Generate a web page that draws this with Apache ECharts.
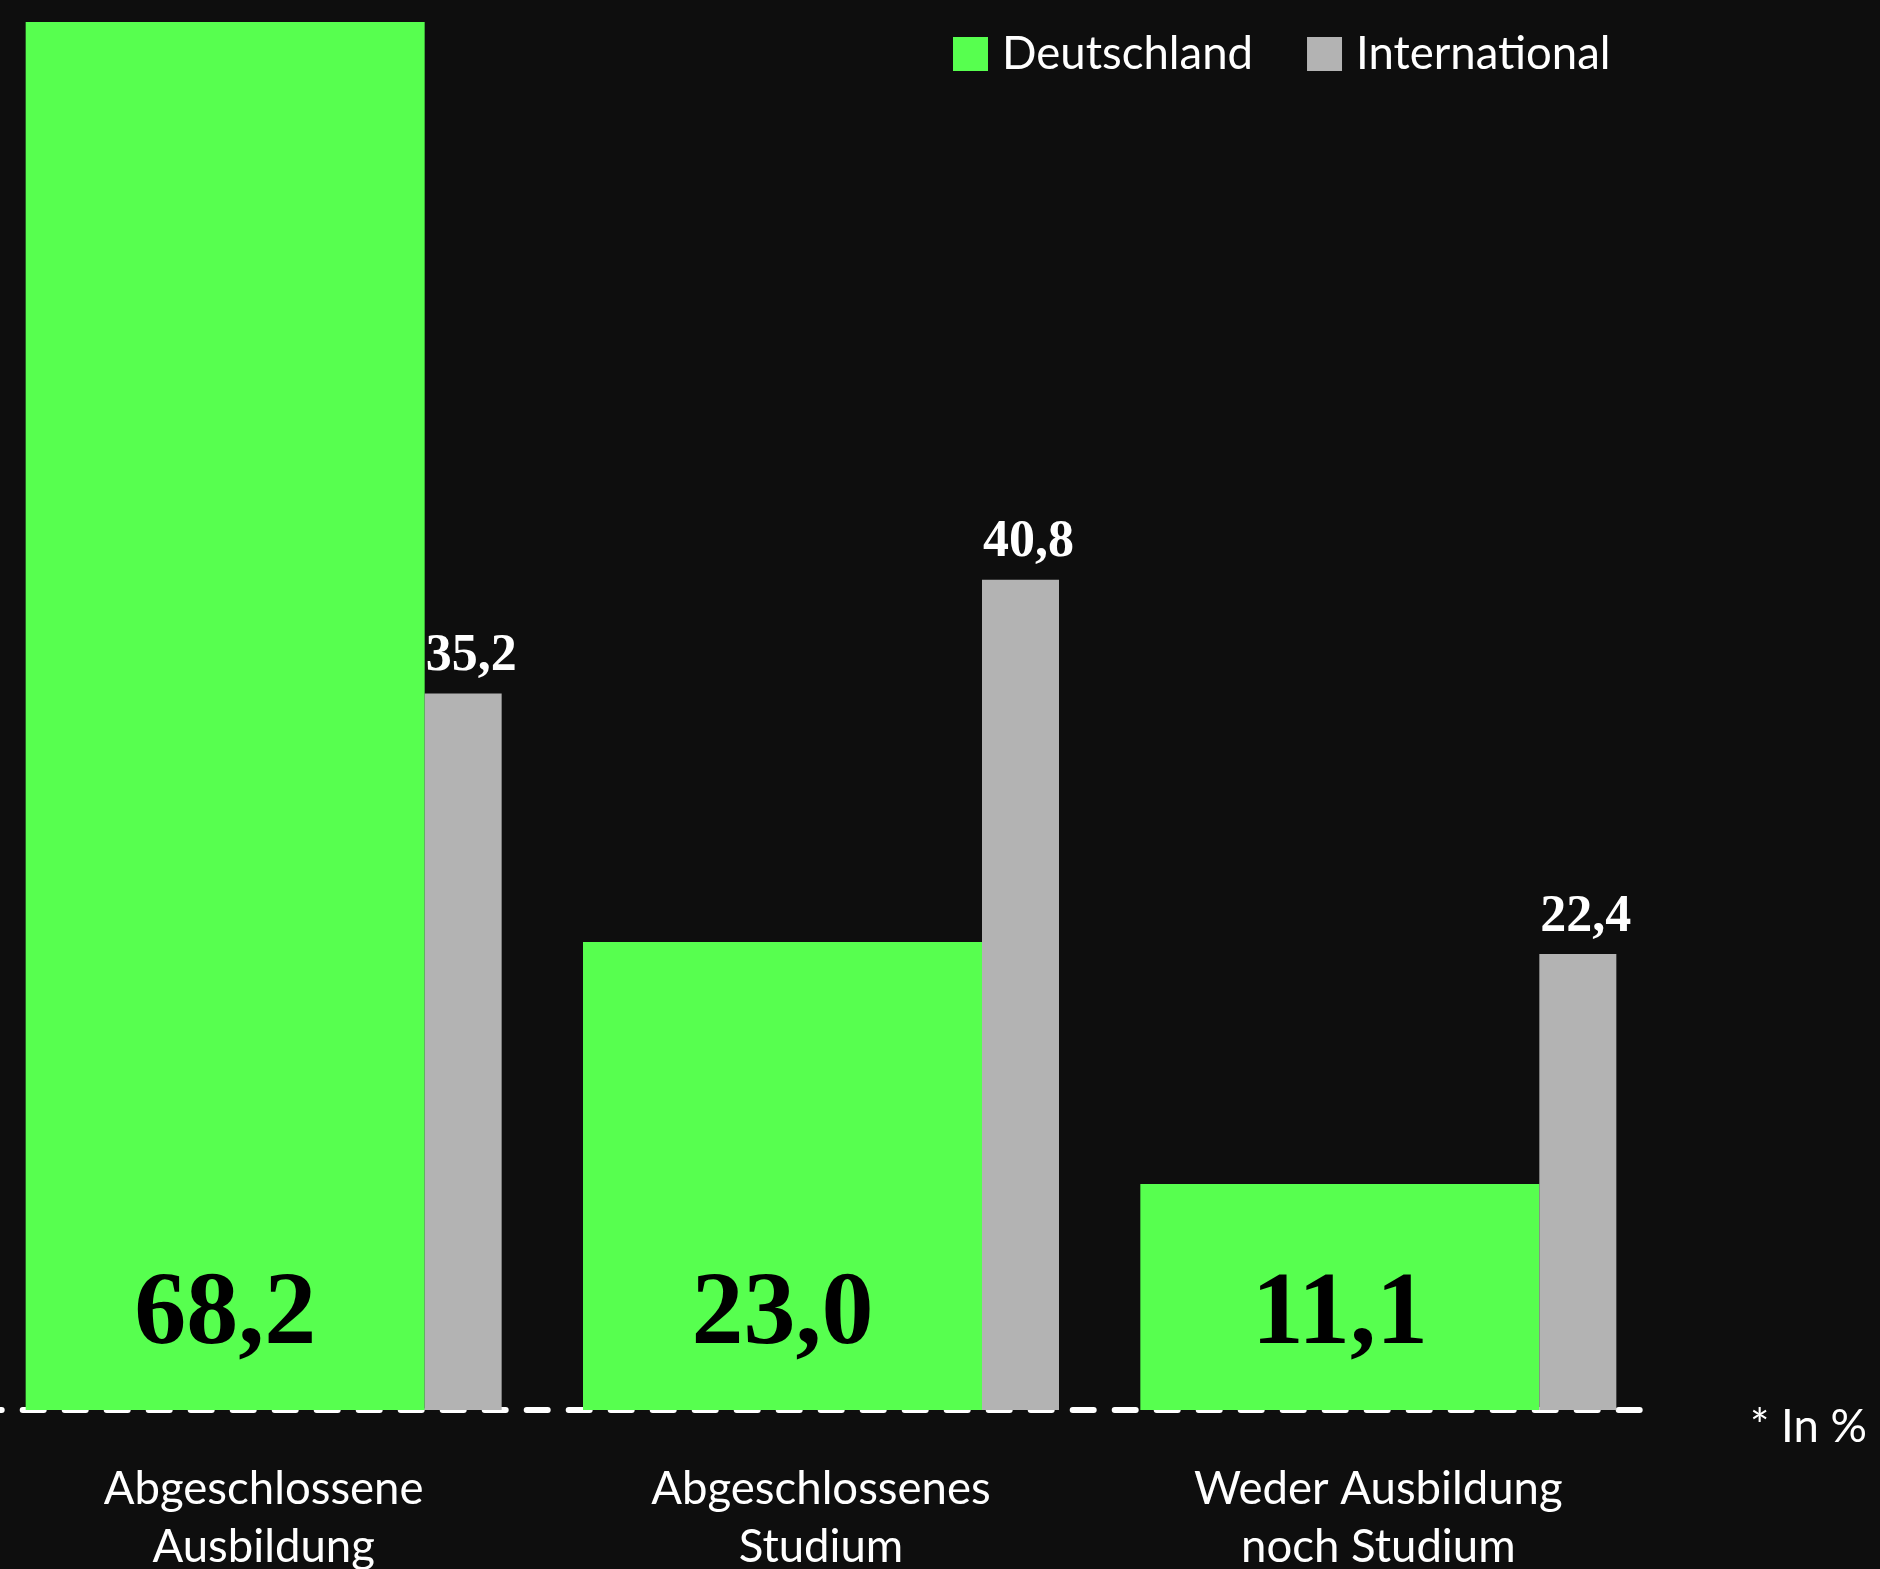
<!DOCTYPE html>
<html>
<head>
<meta charset="utf-8">
<script src="https://cdn.jsdelivr.net/npm/echarts@6/dist/echarts.min.js"></script>
<style>
html,body{margin:0;padding:0;background:#0e0e0e;}
#chart{width:1880px;height:1569px;}
</style>
</head>
<body>
<div id="chart"></div>
<script>
const categories = ['Abgeschlossene\nAusbildung', 'Abgeschlossenes\nStudium', 'Weder Ausbildung\nnoch Studium'];
const seriesNames = ['Deutschland', 'International'];
const deutschland = [68.2, 23.0, 11.1];
const international = [35.2, 40.8, 22.4];
const unitNote = '* In %';

const fmt = p => p.value.toFixed(1).replace('.', ',');
const chart = echarts.init(document.getElementById('chart'), null, {renderer: 'canvas'});
chart.setOption({
  backgroundColor: '#0e0e0e',
  animation: false,
  legend: {
    left: 953, top: 31, padding: 0,
    itemWidth: 35, itemHeight: 34, itemGap: 54,
    icon: 'rect',
    textStyle: {color: '#ffffff', fontSize: 45.5, fontFamily: 'Lato', padding: [0, 0, 0, 9]},
    data: seriesNames
  },
  grid: {left: -15, right: 223, top: 22, bottom: 159, containLabel: false, outerBoundsMode: 'none'},
  xAxis: {
    type: 'category',
    data: categories,
    offset: 3,
    axisLine: {show: true, lineStyle: {color: '#ffffff', width: 6, type: [21, 21], dashOffset: 4.3}},
    axisTick: {show: false},
    axisLabel: {color: '#ffffff', fontSize: 45.5, fontFamily: 'Lato', lineHeight: 58, margin: 47, interval: 0}
  },
  yAxis: {
    type: 'value', min: 0, max: 'dataMax', show: false,
    splitLine: {show: false}
  },
  graphic: [{
    type: 'text', right: 13, top: 1404,
    style: {text: unitNote, fill: '#ffffff', fontSize: 45.5, fontFamily: 'Lato'}
  }],
  series: [
    {
      name: seriesNames[0], type: 'bar', data: deutschland,
      barWidth: 399, barGap: '0%',
      itemStyle: {color: '#57ff4f'},
      label: {show: true, position: 'insideBottom', distance: 42, formatter: fmt,
        color: '#000000', fontSize: 104, fontWeight: 'bold', fontFamily: 'Liberation Serif'}
    },
    {
      name: seriesNames[1], type: 'bar', data: international,
      barWidth: 77, barGap: '0%',
      itemStyle: {color: '#b3b3b3'},
      label: {show: true, position: 'top', distance: 11, offset: [8, 0], formatter: fmt,
        color: '#ffffff', fontSize: 52, fontWeight: 'bold', fontFamily: 'Liberation Serif'}
    }
  ]
});
</script>
</body>
</html>
